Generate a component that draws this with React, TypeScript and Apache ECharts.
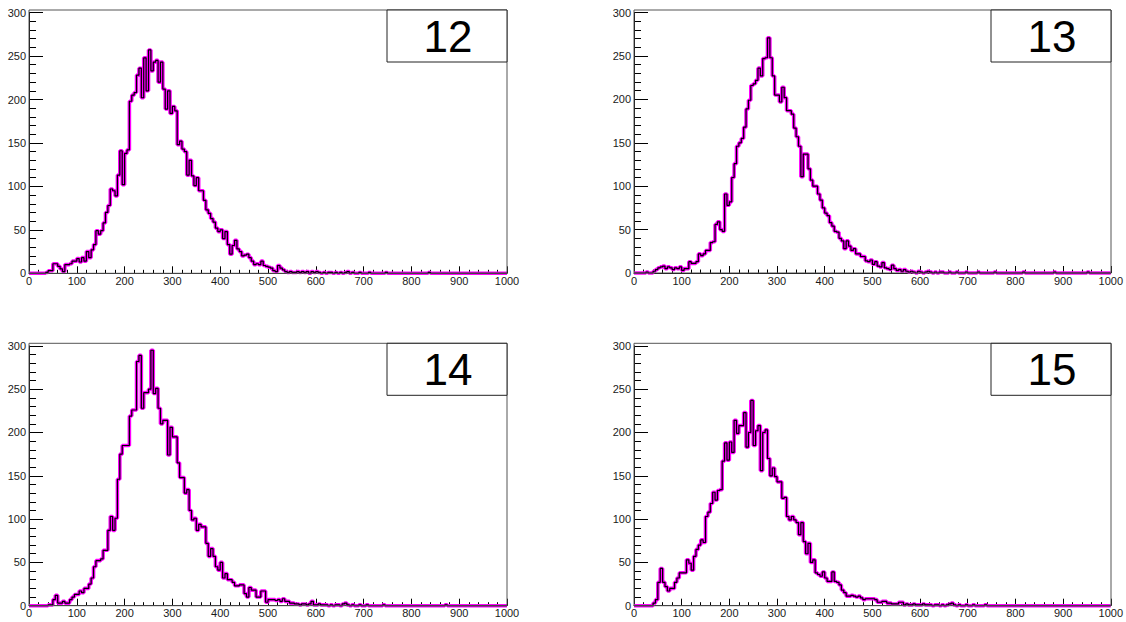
import React, { useEffect, useRef } from "react";
import * as echarts from "echarts";

// ---- data: 200 bins of width 5 over [0, 1000] ----
const BIN_WIDTH = 5;
const X_MIN = 0;
const X_MAX = 1000;
const Y_MAX = 300;

const PANEL_LABELS = ["12", "13", "14", "15"];

const H12_COUNTS = [
  0, 0, 0, 0, 0, 0, 0, 1, 3, 3, 11, 11, 8, 5, 2, 10, 10, 11, 14, 14,
  17, 13, 18, 14, 25, 18, 27, 33, 49, 45, 49, 58, 70, 78, 97, 95, 89, 113, 141, 102,
  138, 142, 198, 205, 208, 228, 236, 202, 248, 210, 257, 233, 243, 245, 220, 243, 212, 189, 210, 184,
  192, 187, 148, 152, 143, 140, 113, 130, 112, 101, 110, 95, 95, 84, 73, 69, 63, 59, 52, 48,
  50, 40, 48, 33, 22, 32, 38, 28, 25, 20, 21, 22, 18, 14, 10, 11, 10, 14, 9, 8,
  7, 6, 3, 2, 9, 6, 4, 2, 1, 2, 1, 1, 2, 1, 2, 1, 2, 0, 2, 1,
  2, 1, 0, 1, 0, 1, 1, 0, 1, 0, 1, 0, 1, 2, 0, 1, 0, 0, 1, 0,
  0, 0, 1, 0, 0, 0, 0, 0, 0, 1, 0, 0, 0, 0, 0, 0, 0, 0, 0, 0,
  0, 0, 0, 0, 0, 0, 0, 1, 0, 0, 0, 0, 0, 0, 0, 0, 0, 0, 0, 0,
  0, 0, 0, 0, 0, 0, 0, 0, 0, 0, 0, 0, 0, 0, 0, 0, 0, 0, 0, 0,
];

const H13_COUNTS = [
  0, 0, 0, 0, 0, 1, 0, 0, 2, 4, 6, 7, 8, 5, 7, 6, 4, 6, 5, 7,
  3, 5, 5, 13, 11, 11, 13, 22, 20, 22, 26, 26, 35, 36, 56, 59, 50, 48, 91, 78,
  82, 110, 126, 146, 150, 155, 168, 189, 199, 216, 218, 222, 236, 227, 247, 248, 271, 248, 227, 205,
  205, 197, 214, 202, 187, 187, 183, 167, 157, 146, 111, 137, 137, 120, 107, 100, 100, 91, 84, 75,
  69, 66, 58, 54, 48, 47, 40, 37, 28, 37, 31, 26, 28, 22, 22, 19, 19, 14, 13, 15,
  10, 13, 8, 7, 12, 6, 5, 4, 9, 5, 3, 4, 2, 4, 2, 1, 2, 1, 0, 2,
  1, 0, 1, 2, 1, 0, 1, 0, 1, 1, 0, 0, 1, 0, 0, 1, 0, 0, 0, 1,
  0, 0, 0, 0, 1, 0, 0, 0, 0, 0, 0, 1, 0, 0, 0, 0, 0, 0, 0, 0,
  0, 0, 0, 1, 0, 0, 0, 0, 0, 0, 0, 0, 0, 0, 0, 0, 1, 0, 0, 0,
  0, 0, 0, 0, 0, 0, 0, 0, 0, 0, 1, 0, 0, 0, 0, 0, 0, 0, 0, 0,
];

const H14_COUNTS = [
  0, 0, 0, 0, 0, 0, 0, 0, 1, 1, 7, 12, 3, 3, 5, 3, 3, 7, 10, 13,
  13, 17, 15, 20, 20, 25, 32, 45, 52, 52, 54, 64, 64, 87, 103, 87, 101, 146, 175, 185,
  185, 185, 219, 226, 226, 282, 289, 228, 246, 246, 250, 295, 245, 251, 228, 210, 214, 214, 174, 206,
  195, 195, 165, 148, 148, 130, 134, 110, 99, 101, 87, 94, 91, 91, 72, 57, 66, 57, 45, 41,
  50, 32, 37, 30, 30, 27, 23, 23, 24, 24, 14, 10, 21, 18, 18, 10, 10, 17, 17, 4,
  7, 7, 7, 6, 7, 5, 8, 5, 5, 3, 3, 2, 2, 1, 2, 2, 1, 2, 5, 1,
  1, 2, 1, 1, 1, 0, 1, 0, 1, 1, 0, 2, 3, 1, 0, 1, 0, 0, 1, 0,
  0, 1, 0, 0, 0, 0, 0, 0, 1, 0, 0, 0, 0, 0, 0, 0, 0, 0, 0, 0,
  0, 0, 0, 0, 0, 0, 0, 0, 0, 0, 0, 0, 0, 0, 1, 0, 0, 0, 0, 0,
  0, 0, 0, 0, 0, 0, 0, 0, 0, 0, 0, 0, 0, 0, 0, 0, 0, 0, 0, 0,
];

const H15_COUNTS = [
  0, 0, 0, 0, 0, 0, 0, 0, 3, 7, 27, 43, 27, 22, 17, 20, 20, 27, 32, 38,
  38, 38, 53, 49, 41, 57, 65, 70, 76, 73, 103, 108, 118, 131, 122, 133, 134, 167, 188, 168,
  189, 177, 214, 199, 208, 208, 223, 183, 200, 237, 185, 202, 208, 156, 200, 203, 170, 150, 159, 149,
  143, 143, 124, 125, 103, 99, 103, 99, 96, 82, 96, 74, 60, 72, 50, 53, 38, 36, 34, 39,
  32, 28, 28, 39, 28, 27, 24, 18, 15, 11, 11, 12, 11, 10, 11, 9, 7, 8, 8, 8,
  8, 7, 4, 4, 5, 5, 3, 3, 2, 2, 2, 4, 4, 1, 2, 1, 1, 2, 1, 1,
  1, 2, 1, 1, 1, 0, 1, 1, 0, 1, 0, 1, 2, 3, 1, 0, 1, 0, 0, 1,
  0, 0, 1, 0, 0, 0, 0, 1, 0, 0, 0, 0, 0, 0, 0, 0, 0, 0, 0, 0,
  0, 0, 0, 0, 0, 0, 0, 0, 0, 0, 0, 0, 0, 0, 0, 0, 0, 0, 0, 0,
  0, 0, 0, 0, 0, 0, 0, 0, 0, 0, 0, 0, 0, 0, 0, 0, 0, 0, 0, 0,
];

const COUNT_SETS = [H12_COUNTS, H13_COUNTS, H14_COUNTS, H15_COUNTS];

// ---- layout (pixels) ----
const FRAMES = [
  { left: 29, top: 10, width: 478, bottom: 273.3 },
  { left: 634, top: 10, width: 477, bottom: 273.0 },
  { left: 29, top: 343.3, width: 478, bottom: 605.7 },
  { left: 634, top: 343.3, width: 477, bottom: 605.7 },
];
const BOX_W = 120;
const BOX_H = 52;

const FONT = '"Liberation Sans", Arial, Helvetica, sans-serif';

function toSteps(values: number[]) {
  const pts: number[][] = values.map((v, k) => [X_MIN + k * BIN_WIDTH, v]);
  pts.push([X_MIN + values.length * BIN_WIDTH, values[values.length - 1]]);
  return pts;
}

function buildOption() {
  const grid: any[] = [];
  const xAxis: any[] = [];
  const yAxis: any[] = [];
  const series: any[] = [];
  const graphic: any[] = [];

  FRAMES.forEach((f, i) => {
    const frameH = f.bottom - f.top;
    const pxPerUnit = frameH / 303;
    const gridTop = f.bottom - Y_MAX * pxPerUnit;
    grid.push({
      left: f.left,
      top: gridTop,
      width: f.width,
      height: f.bottom - gridTop,
      show: false,
    });
    xAxis.push({
      type: "value",
      gridIndex: i,
      min: X_MIN,
      max: X_MAX,
      interval: 100,
      axisLine: { show: true, onZero: false, lineStyle: { color: "#000", width: 1 } },
      axisTick: { show: true, inside: true, length: 7, lineStyle: { color: "#000", width: 1 } },
      minorTick: { show: true, splitNumber: 5, length: 3.5, lineStyle: { color: "#000", width: 1 } },
      splitLine: { show: false },
      minorSplitLine: { show: false },
      axisLabel: {
        fontSize: 11,
        color: "#1a1a1a",
        margin: 2,
        fontFamily: FONT,
        hideOverlap: false,
        formatter: (v: number) => String(v),
      },
    });
    yAxis.push({
      type: "value",
      gridIndex: i,
      min: 0,
      max: Y_MAX,
      interval: 50,
      axisLine: { show: true, onZero: false, lineStyle: { color: "#000", width: 1 } },
      axisTick: { show: true, inside: true, length: 14, lineStyle: { color: "#000", width: 1 } },
      minorTick: { show: true, splitNumber: 5, length: 7, lineStyle: { color: "#000", width: 1 } },
      splitLine: { show: false },
      minorSplitLine: { show: false },
      axisLabel: {
        fontSize: 11,
        color: "#1a1a1a",
        margin: 3,
        fontFamily: FONT,
        formatter: (v: number) => String(v),
      },
    });

    const counts = COUNT_SETS[i];
    // same histogram drawn twice: wide magenta underneath, thin black on top
    series.push({
      type: "line",
      xAxisIndex: i,
      yAxisIndex: i,
      step: "end",
      data: toSteps(counts),
      showSymbol: false,
      symbol: "none",
      silent: true,
      clip: false,
      lineStyle: { color: "#ff00ff", width: 3.6 },
      z: 2,
    });
    series.push({
      type: "line",
      xAxisIndex: i,
      yAxisIndex: i,
      step: "end",
      data: toSteps(counts),
      showSymbol: false,
      symbol: "none",
      silent: true,
      clip: false,
      lineStyle: { color: "#000000", width: 1.2 },
      z: 3,
    });

    graphic.push({
      type: "rect",
      z: 10,
      silent: true,
      shape: { x: f.left, y: f.top, width: f.width, height: frameH },
      style: { fill: "none", stroke: "#555", lineWidth: 1 },
    });
    const bx = f.left + f.width - BOX_W;
    graphic.push({
      type: "rect",
      z: 11,
      silent: true,
      shape: { x: bx, y: f.top, width: BOX_W, height: BOX_H },
      style: { fill: "#fff", stroke: "#222", lineWidth: 1 },
    });
    graphic.push({
      type: "text",
      z: 12,
      silent: true,
      x: bx + BOX_W / 2 + 1,
      y: f.top + BOX_H / 2 + 0.5,
      style: {
        text: PANEL_LABELS[i],
        fill: "#000",
        font: `44px ${FONT}`,
        align: "center",
        verticalAlign: "middle",
      },
    });
  });

  return {
    animation: false,
    backgroundColor: "#fff",
    grid,
    xAxis,
    yAxis,
    series,
    graphic,
  };
}

export default function App() {
  const ref = useRef<HTMLDivElement>(null);
  useEffect(() => {
    if (!ref.current) return;
    const chart = echarts.init(ref.current, undefined, { renderer: "svg" });
    chart.setOption(buildOption() as any);
    return () => chart.dispose();
  }, []);
  return (
    <div
      ref={ref}
      style={{ position: "fixed", left: 0, top: 0, width: 1126, height: 622, background: "#fff" }}
    />
  );
}
